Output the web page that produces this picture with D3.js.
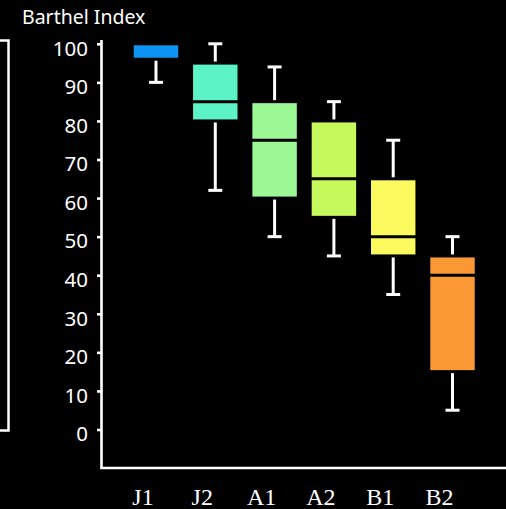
<!DOCTYPE html>
<html>
<head>
<meta charset="utf-8">
<script src="https://cdn.jsdelivr.net/npm/d3@7"></script>
<style>
  html, body { margin: 0; padding: 0; background: #000; }
  svg { display: block; }
</style>
</head>
<body>
<svg id="chart" width="506" height="509"></svg>
<script>
// Barthel Index by group: five-number summaries
const groups   = ["J1", "J2", "A1", "A2", "B1", "B2"];
const mins     = [90, 62, 50, 45, 35, 5];
const q1s      = [96, 80, 60, 55, 45, 15];
const medians  = [100, 85, 75, 65, 50, 40];
const q3s      = [100, 95, 85, 80, 65, 45];
const maxs     = [100, 100, 94, 85, 75, 50];
const boxColors = ["#0c94f2", "#5cf4c6", "#9cf894", "#c6f95c", "#fafa5e", "#fa9834"];
const yTicks   = [0, 10, 20, 30, 40, 50, 60, 70, 80, 90, 100];
const yTitle   = "Barthel Index";

const rows = groups.map((g, i) => ({
  g, min: mins[i], q1: q1s[i], med: medians[i], q3: q3s[i], max: maxs[i], color: boxColors[i]
}));

const svg = d3.select("#chart");

// partial panel frame at the left edge
svg.append("rect")
  .attr("x", -20).attr("y", 40.5).attr("width", 28.5).attr("height", 390)
  .attr("fill", "none").attr("stroke", "#fff").attr("stroke-width", 2.5);

const y = d3.scaleLinear().domain([0, 100]).range([429.5, 43.8]);
const x = d3.scaleBand().domain(groups).range([120.4, 488.1]).paddingInner(0.2).paddingOuter(0.2);

// axis frame: left and bottom lines
const frame = svg.append("g").attr("stroke", "#fff").attr("stroke-width", 2.6).attr("fill", "none");
frame.append("line").attr("x1", 101.5).attr("x2", 101.5).attr("y1", 40).attr("y2", 468.5);
frame.append("line").attr("x1", 100.2).attr("x2", 506).attr("y1", 468).attr("y2", 468);

// y axis with short ticks and numeric labels
const yAxis = svg.append("g")
  .attr("transform", "translate(101.5,0)")
  .call(d3.axisLeft(y).tickValues(yTicks).tickSize(4.5).tickPadding(9).tickFormat(d3.format("d")));
yAxis.select(".domain").remove();
yAxis.selectAll(".tick line").attr("stroke", "#fff").attr("stroke-width", 2.6);
yAxis.selectAll(".tick text")
  .attr("fill", "#fff")
  .attr("font-family", "'Noto Sans', 'DejaVu Sans', sans-serif")
  .attr("font-size", 20.5)
  .attr("dy", "0.55em");

svg.append("text")
  .attr("x", 22).attr("y", 24)
  .attr("fill", "#fff")
  .attr("font-family", "'Noto Sans', 'DejaVu Sans', sans-serif")
  .attr("font-size", 19.5)
  .text(yTitle);

// category labels, set slightly left of each box centre
const xAxis = svg.append("g")
  .attr("transform", "translate(-13,505)")
  .call(d3.axisBottom(x).tickSize(0).tickPadding(0));
xAxis.select(".domain").remove();
xAxis.selectAll(".tick text")
  .attr("fill", "#fff")
  .attr("font-family", "'Liberation Serif', 'DejaVu Serif', serif")
  .attr("font-size", 24)
  .attr("dy", 0);

const bw = x.bandwidth();
const capW = 14;
const g = svg.append("g");

rows.forEach(d => {
  const cx = x(d.g) + bw / 2;
  const wh = g.append("g").attr("stroke", "#fff").attr("stroke-width", 3);
  if (d.max > d.q3) {
    wh.append("line").attr("x1", cx).attr("x2", cx).attr("y1", y(d.max)).attr("y2", y(d.q3));
    wh.append("line").attr("x1", cx - capW / 2).attr("x2", cx + capW / 2).attr("y1", y(d.max)).attr("y2", y(d.max));
  }
  if (d.min < d.q1) {
    wh.append("line").attr("x1", cx).attr("x2", cx).attr("y1", y(d.q1)).attr("y2", y(d.min));
    wh.append("line").attr("x1", cx - capW / 2).attr("x2", cx + capW / 2).attr("y1", y(d.min)).attr("y2", y(d.min));
  }
  g.append("rect")
    .attr("x", x(d.g)).attr("width", bw)
    .attr("y", y(d.q3)).attr("height", y(d.q1) - y(d.q3))
    .attr("fill", d.color).attr("stroke", "#000").attr("stroke-width", 3);
  if (d.med < d.q3) {
    g.append("line")
      .attr("x1", x(d.g)).attr("x2", x(d.g) + bw)
      .attr("y1", y(d.med)).attr("y2", y(d.med))
      .attr("stroke", "#000").attr("stroke-width", 3);
  }
});
</script>
</body>
</html>
